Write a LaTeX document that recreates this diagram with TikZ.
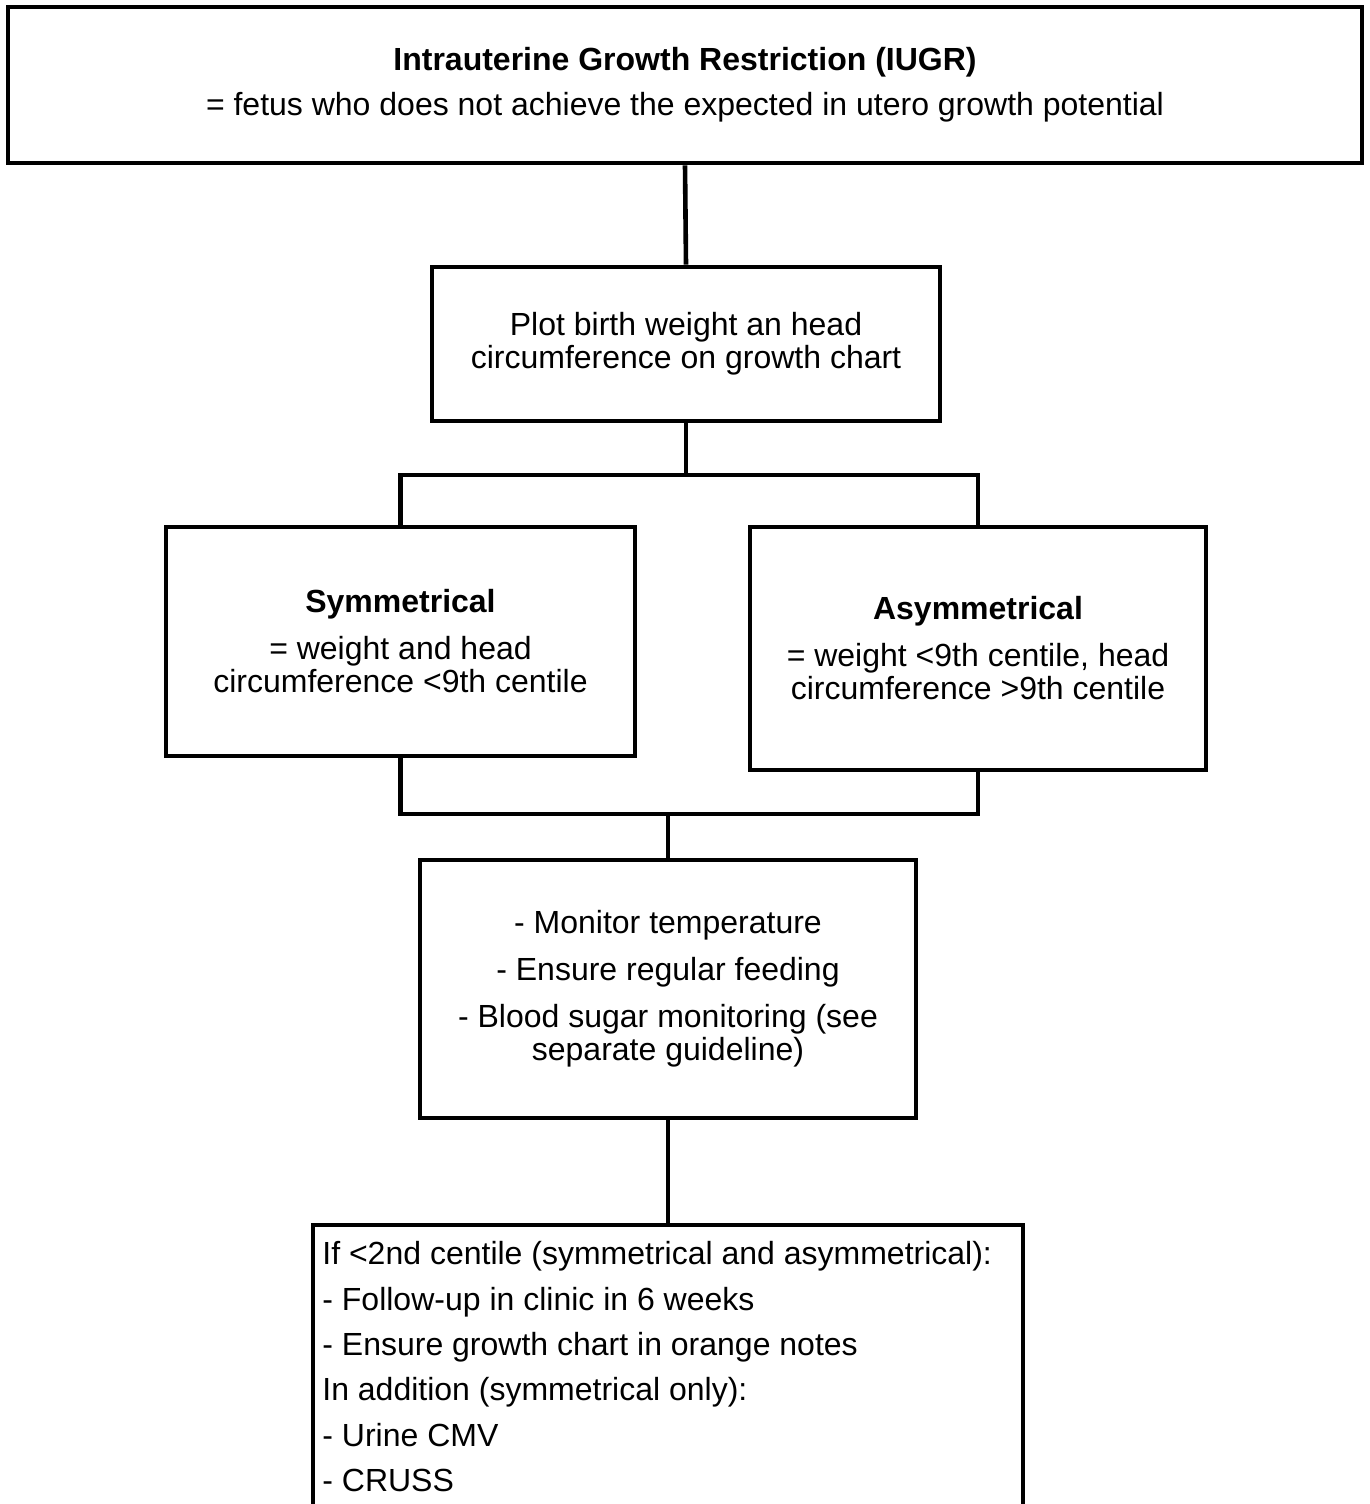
\documentclass[tikz,border=0pt]{standalone}
\usepackage{fontspec}
\setmainfont{Liberation Sans}
\begin{document}
\begin{tikzpicture}[x=0.5pt,y=-0.5pt,
  box/.style={draw=black,line width=2.3pt,rectangle,align=center,inner sep=0pt,
    font=\fontsize{16pt}{16.5pt}\selectfont},
  txt/.style={inner sep=0pt,align=left,font=\fontsize{16pt}{22.7pt}\selectfont},
  conn/.style={draw=black,line width=2.3pt}]
\useasboundingbox (0,0) rectangle (1370,1504);
\clip (0,0) rectangle (1370,1504);
\node[box,minimum width=677pt,minimum height=78pt] (top) at (685,85)
  {\textbf{Intrauterine Growth Restriction (IUGR)}\\[6pt]= fetus who does not achieve the expected in utero growth potential};
\node[box,minimum width=254pt,minimum height=77pt] (plot) at (686,344)
  {Plot birth weight an head\\circumference on growth chart};
\node[box,minimum width=234.5pt,minimum height=114.5pt] (sym) at (400.5,641.5)
  {\textbf{Symmetrical}\\[7pt]= weight and head\\circumference <9th centile};
\node[box,minimum width=228pt,minimum height=121.5pt] (asym) at (978,648.5)
  {\textbf{Asymmetrical}\\[7pt]= weight <9th centile, head\\circumference >9th centile};
\node[box,minimum width=248pt,minimum height=129pt] (care) at (668,989)
  {- Monitor temperature\\[7pt]- Ensure regular feeding\\[7pt]- Blood sugar monitoring (see\\separate guideline)};
\node[box,minimum width=355pt,minimum height=187.5pt] (follow) at (668,1412.5) {};
\node[txt,anchor=north west] (followtext) at (322,1241)
  {If <2nd centile (symmetrical and asymmetrical):\\
   - Follow-up in clinic in 6 weeks\\
   - Ensure growth chart in orange notes\\
   In addition (symmetrical only):\\
   - Urine CMV\\
   - CRUSS};
\coordinate (j1) at (686,475);
\coordinate (j2) at (668,814);
\draw[conn] (top.south) -- (plot.north);
\draw[conn] (plot.south) -- (j1);
\draw[conn] (j1) -| (sym.north);
\draw[conn] (j1) -| (asym.north);
\draw[conn] (sym.south) |- (j2);
\draw[conn] (asym.south) |- (j2);
\draw[conn] (j2) -- (care.north);
\draw[conn] (care.south) -- (follow.north);
\end{tikzpicture}
\end{document}
